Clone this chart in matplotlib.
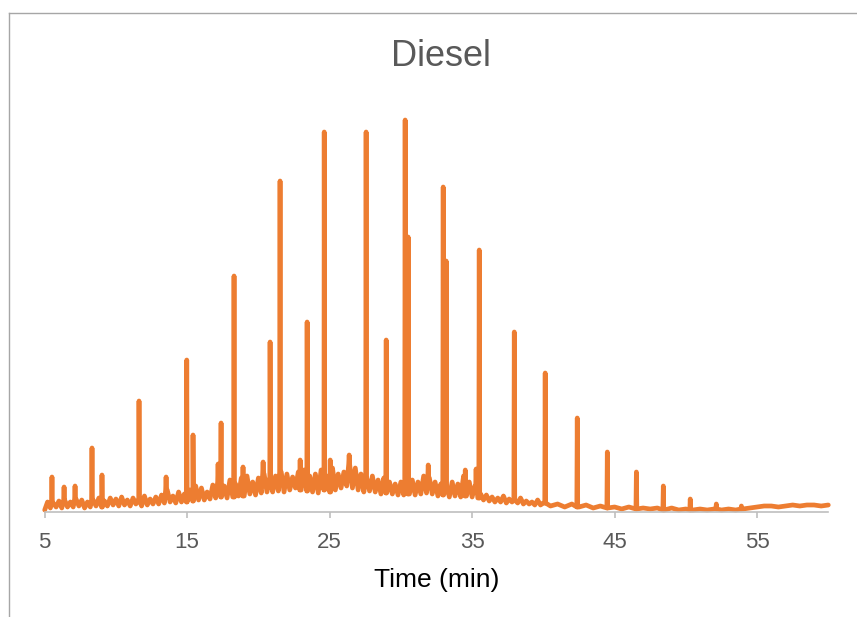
import matplotlib.pyplot as plt
import numpy as np
from matplotlib.lines import Line2D

plt.rcParams['font.family'] = ['Liberation Sans', 'DejaVu Sans']

# detector baseline, sampled every 0.2 min up to 40 min, then every 0.5 min
base_t = np.concatenate((np.round(np.arange(5.0, 39.9, 0.2), 1),
                         np.arange(40.0, 60.01, 0.5)))
base_h = np.array([
    2, 10, 4, 9, 5,      # 5
    11, 4, 12, 5, 10,    # 6
    5, 13, 6, 12, 4,     # 7
    10, 5, 12, 6, 14,    # 8
    5, 11, 6, 14, 7,     # 9
    13, 6, 15, 7, 12,    # 10
    6, 14, 8, 12, 6,     # 11
    16, 7, 13, 8, 15,    # 12
    8, 17, 9, 22, 10,    # 13
    16, 9, 20, 10, 18,   # 14
    10, 22, 11, 26, 12,  # 15
    24, 12, 20, 13, 27,  # 16
    14, 30, 15, 26, 14,  # 17
    32, 15, 28, 16, 34,  # 18
    16, 36, 18, 30, 17,  # 19
    34, 19, 38, 20, 33,  # 20
    20, 36, 21, 40, 20,  # 21
    38, 22, 35, 24, 40,  # 22
    22, 42, 21, 36, 20,  # 23
    38, 19, 42, 22, 36,  # 24
    20, 44, 22, 38, 24,  # 25
    40, 26, 48, 24, 44,  # 26
    22, 38, 20, 34, 21,  # 27
    36, 20, 32, 18, 34,  # 28
    19, 30, 18, 28, 17,  # 29
    30, 17, 28, 18, 32,  # 30
    17, 30, 18, 36, 19,  # 31
    34, 18, 30, 16, 28,  # 32
    17, 26, 15, 30, 16,  # 33
    28, 15, 36, 16, 30,  # 34
    15, 26, 14, 18, 12,  # 35
    17, 11, 15, 10, 14,  # 36
    10, 16, 9, 13, 10,   # 37
    12, 9, 14, 8, 11,    # 38
    8, 10, 7, 12, 7,     # 39
    9, 6, 8, 5, 8, 5, 7, 4, 6, 4,   # 40-44.5
    5, 3, 5, 3, 4, 3, 4, 2, 4, 2,   # 45-49.5
    3, 2, 3, 2, 3, 2, 3, 2, 3, 4,   # 50-54.5
    5, 6, 6, 5, 6, 7, 6, 7, 7, 6,   # 55-59.5
    7,                              # 60
])

# resolved peaks: retention time (min) and apex height
peak_t = [5.51, 6.36, 7.13, 8.32, 9.02, 11.62, 13.52, 14.97, 15.41, 17.17,
          17.38, 18.29, 18.92, 20.33, 20.82, 21.52, 22.93, 23.42, 24.62, 25.04,
          26.37, 27.56, 28.97, 30.30, 30.51, 31.92, 32.97, 33.18, 34.52, 35.28,
          35.50, 37.96, 40.13, 42.38, 44.49, 46.53, 48.42, 50.31, 52.14, 53.90]
peak_h = [35, 25, 26, 64, 37, 111, 35, 152, 77, 48,
          89, 236, 45, 50, 170, 331, 52, 190, 380, 52,
          57, 380, 172, 392, 275, 47, 325, 251, 42, 43,
          262, 180, 139, 94, 60, 40, 26, 13, 8, 6]

# build the trace: each peak rises from the nearest baseline sample
t_pts = list(base_t)
h_pts = list(base_h)
for t, h in zip(peak_t, peak_h):
    foot = base_h[np.argmin(np.abs(base_t - t))]
    t_pts += [t - 0.03, t, t + 0.03]
    h_pts += [foot, h, foot]
order = np.argsort(t_pts, kind='stable')
t_pts = np.array(t_pts)[order]
h_pts = np.array(h_pts)[order]

W, H = 857, 617
fig = plt.figure(figsize=(W / 100, H / 100), dpi=100)
ax = fig.add_axes([44.7 / W, 105 / H, 783.6 / W, 412 / H])

ax.plot(t_pts, h_pts, color='#ED7D31', lw=3.4,
        solid_joinstyle='round', solid_capstyle='round', clip_on=False)

ax.set_xlim(5, 60)
ax.set_ylim(0, 412)
ax.set_xticks([5, 15, 25, 35, 45, 55])
ax.set_yticks([])
for side in ('top', 'right', 'left'):
    ax.spines[side].set_visible(False)
ax.spines['bottom'].set_color('#BFBFBF')
ax.spines['bottom'].set_linewidth(1.2)
ax.tick_params(axis='x', direction='out', length=4.5, width=1.2, color='#BFBFBF',
               labelsize=16, labelcolor='#595959', pad=10)
ax.set_xlabel('Time (min)', fontsize=19, color='black', labelpad=11)

fig.text(441 / W, 1 - 57 / H, 'Diesel', fontsize=26, color='#595959',
         ha='center', va='center')

# chart area outline
fig.add_artist(Line2D([9 / W, 9 / W], [0, 1 - 13 / H], color='#A6A6A6', lw=1.0))
fig.add_artist(Line2D([9 / W, 1], [1 - 13 / H, 1 - 13 / H], color='#A6A6A6', lw=1.0))

fig.savefig('out.png', dpi=100)
